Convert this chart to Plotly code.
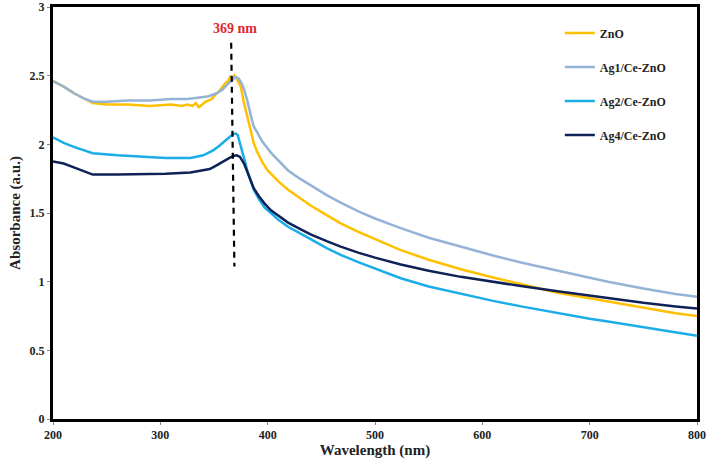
import plotly.graph_objects as go

# ---------------- data ----------------
zno_wl = [200, 210, 220, 230, 237, 250, 270, 290, 310, 320, 325, 330, 333, 336, 339, 342, 345, 348,
          351, 354, 357, 360, 363, 365, 367, 369, 371, 373, 375, 378, 381, 384, 387, 390, 395, 400,
          410, 419, 430, 440, 455, 468, 485, 500, 524, 550, 580, 610, 636, 670, 700, 717, 750, 780, 800]
zno_abs = [2.46, 2.42, 2.37, 2.33, 2.30, 2.29, 2.29, 2.28, 2.29, 2.28, 2.29, 2.28, 2.30, 2.27, 2.29,
           2.31, 2.32, 2.33, 2.36, 2.38, 2.41, 2.44, 2.46, 2.49, 2.47, 2.50, 2.48, 2.45, 2.42, 2.30,
           2.20, 2.10, 2.01, 1.95, 1.87, 1.81, 1.73, 1.67, 1.61, 1.555, 1.485, 1.425, 1.36, 1.31, 1.23,
           1.16, 1.09, 1.03, 0.98, 0.92, 0.88, 0.856, 0.81, 0.77, 0.75]

ag1_wl = [200, 210, 220, 230, 237, 250, 270, 290, 310, 325, 335, 345, 352, 358, 363, 367, 370, 373,
          376, 378, 381, 384, 387, 390, 395, 403, 410, 419, 430, 440, 455, 468, 485, 500, 524, 550,
          580, 610, 636, 670, 700, 717, 750, 780, 800]
ag1_abs = [2.46, 2.42, 2.37, 2.33, 2.31, 2.31, 2.32, 2.32, 2.33, 2.33, 2.34, 2.35, 2.37, 2.40, 2.44,
           2.47, 2.49, 2.48, 2.44, 2.40, 2.32, 2.22, 2.13, 2.09, 2.02, 1.94, 1.88, 1.81, 1.75, 1.70,
           1.63, 1.575, 1.51, 1.46, 1.39, 1.32, 1.255, 1.19, 1.14, 1.08, 1.03, 1.00, 0.95, 0.91, 0.89]

ag2_wl = [200, 210, 220, 237, 260, 282, 305, 328, 340, 345, 350, 355, 360, 364, 367, 370, 372, 375,
          378, 381, 384, 387, 392, 397, 403, 410, 419, 430, 440, 455, 468, 485, 500, 524, 550, 580,
          610, 636, 670, 700, 717, 750, 780, 800]
ag2_abs = [2.05, 2.01, 1.98, 1.935, 1.92, 1.91, 1.90, 1.90, 1.92, 1.94, 1.96, 1.99, 2.02, 2.05, 2.07,
           2.08, 2.07, 1.99, 1.90, 1.81, 1.74, 1.67, 1.60, 1.54, 1.50, 1.45, 1.40, 1.35, 1.31, 1.245,
           1.195, 1.14, 1.095, 1.025, 0.965, 0.91, 0.86, 0.82, 0.77, 0.73, 0.71, 0.67, 0.63, 0.606]

ag4_wl = [200, 210, 220, 230, 237, 260, 282, 305, 328, 340, 346, 352, 356, 360, 364, 368, 371, 374,
          378, 381, 384, 387, 392, 397, 403, 410, 419, 430, 440, 455, 468, 485, 500, 524, 550, 580,
          610, 636, 670, 700, 717, 750, 780, 800]
ag4_abs = [1.875, 1.86, 1.83, 1.80, 1.78, 1.78, 1.783, 1.785, 1.795, 1.81, 1.82, 1.845, 1.865, 1.88,
           1.90, 1.915, 1.92, 1.91, 1.86, 1.80, 1.74, 1.68, 1.62, 1.57, 1.52, 1.48, 1.43, 1.385, 1.345,
           1.295, 1.255, 1.21, 1.175, 1.125, 1.08, 1.035, 0.998, 0.968, 0.93, 0.897, 0.878, 0.846, 0.82, 0.805]

series_names = ["ZnO", "Ag1/Ce-ZnO", "Ag2/Ce-ZnO", "Ag4/Ce-ZnO"]
series_colors = ["#FFC000", "#95B3D7", "#1AADE8", "#0E2257"]

x_ticks = [200, 300, 400, 500, 600, 700, 800]
y_ticks = [0, 0.5, 1, 1.5, 2, 2.5, 3]
y_tick_text = ["0", "0.5", "1", "1.5", "2", "2.5", "3"]

peak_label = "369 nm"
peak_line_x = [366, 369]
peak_line_y = [2.74, 1.11]

# ---------------- figure ----------------
FONT = "Liberation Serif, Times New Roman, serif"
fig = go.Figure()
for i, (wl, ab) in enumerate([(zno_wl, zno_abs), (ag1_wl, ag1_abs), (ag2_wl, ag2_abs), (ag4_wl, ag4_abs)]):
    fig.add_trace(go.Scatter(
        x=wl, y=ab, mode="lines", name=series_names[i], legendgroup=f"g{i}",
        line=dict(color=series_colors[i], width=2.5),
    ))

fig.add_trace(go.Scatter(
    x=peak_line_x, y=peak_line_y, mode="lines", showlegend=False,
    line=dict(color="black", width=2.2, dash="6px,5px"),
))

fig.add_annotation(
    x=370, y=2.845, xref="x", yref="y", text=peak_label, showarrow=False,
    font=dict(family=FONT, size=14, color="#E0282E", weight="bold"),
)

axis_common = dict(
    showline=True, linecolor="black", linewidth=3, mirror=True, automargin=False,
    showgrid=False, zeroline=False, ticks="outside", ticklen=3, tickcolor="#888",
    tickfont=dict(family=FONT, size=12, color="#222", weight="bold"),
)

fig.update_layout(
    width=708, height=465,
    margin=dict(l=53, r=11, t=7, b=46),
    paper_bgcolor="white", plot_bgcolor="white",
    showlegend=True,
    legend=dict(
        x=0.787, y=0.972, xanchor="left", yanchor="top",
        font=dict(family=FONT, size=12, color="#222", weight="bold"),
        tracegroupgap=15, bgcolor="rgba(0,0,0,0)", itemwidth=30,
    ),
    xaxis=dict(
        range=[200, 800], tickvals=x_ticks, **axis_common,
        title=dict(text="Wavelength (nm)", font=dict(family=FONT, size=15, color="#222", weight="bold"),
                   standoff=4),
    ),
    yaxis=dict(
        range=[0, 3], tickvals=y_ticks, ticktext=y_tick_text, **axis_common,
        title=dict(text="Absorbance (a.u.)", font=dict(family=FONT, size=15, color="#222", weight="bold"),
                   standoff=6),
    ),
)

fig.write_html("out.html", config={"displayModeBar": False},
               post_script="document.body.style.margin='0';")
